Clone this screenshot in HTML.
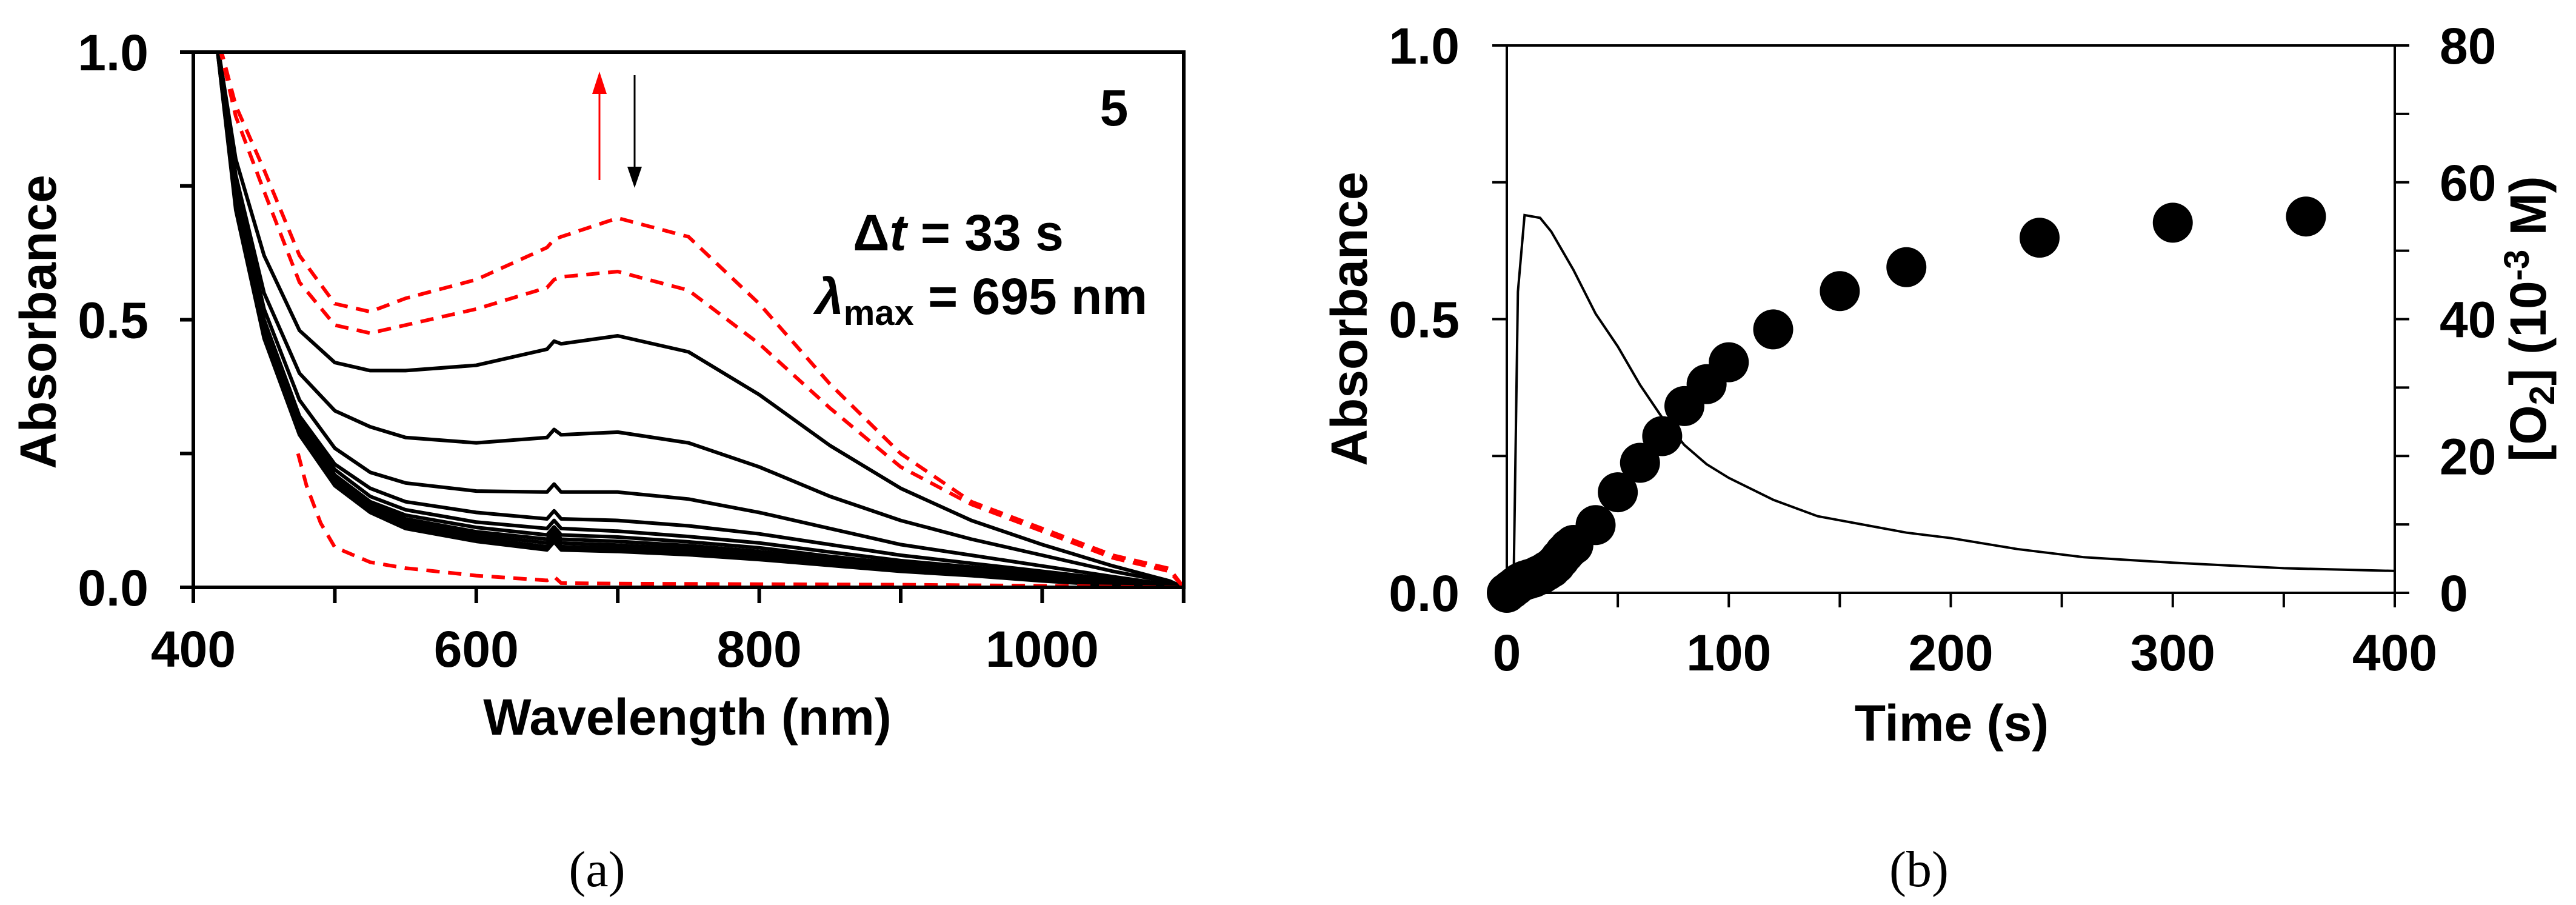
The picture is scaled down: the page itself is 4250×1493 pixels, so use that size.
<!DOCTYPE html>
<html><head><meta charset="utf-8"><style>
html,body{margin:0;padding:0;background:#fff}
svg{display:block}
text{font-family:"Liberation Sans",sans-serif;font-weight:bold;fill:#000}
.cap{font-family:"Liberation Serif",serif;font-weight:normal}
</style></head><body>
<svg id="fig" width="4250" height="1493" viewBox="0 0 4250 1493">
<g id="pa"></g>
<g id="pb"></g>
<text class="cap" x="985" y="1462" font-size="84" text-anchor="middle">(a)</text>
<text class="cap" x="3166" y="1462" font-size="84" text-anchor="middle">(b)</text>
</svg>
<script>
// ---- Panel A data ----
const wl = [415,430,450,475,500,525,550,600,650,655,660,700,750,800,850,900,950,1000,1050,1090,1100];
const redTop = [1.05,0.90,0.78,0.62,0.53,0.515,0.54,0.575,0.635,0.65,0.655,0.69,0.655,0.53,0.38,0.25,0.16,0.11,0.06,0.035,0.0];
const red2   = [1.05,0.88,0.74,0.57,0.49,0.475,0.49,0.52,0.56,0.575,0.58,0.59,0.555,0.455,0.335,0.225,0.155,0.105,0.055,0.03,0.0];
const blk1 = [1.05,0.80,0.62,0.48,0.42,0.405,0.405,0.415,0.445,0.46,0.455,0.47,0.44,0.36,0.265,0.185,0.125,0.08,0.04,0.012,0.0];
const blk2 = [1.05,0.77,0.55,0.40,0.33,0.30,0.28,0.27,0.28,0.295,0.285,0.29,0.27,0.225,0.17,0.125,0.09,0.06,0.03,0.01,0.0];
const blk3 = [1.05,0.75,0.52,0.35,0.26,0.215,0.195,0.18,0.178,0.193,0.178,0.178,0.165,0.14,0.11,0.08,0.06,0.04,0.02,0.005,0.0];
const blk4 = [1.05,0.74,0.50,0.32,0.23,0.185,0.16,0.14,0.128,0.143,0.128,0.125,0.115,0.10,0.08,0.06,0.045,0.03,0.015,0.003,0.0];
const blk5 = [1.05,0.73,0.49,0.31,0.22,0.17,0.145,0.122,0.11,0.125,0.11,0.105,0.095,0.083,0.066,0.05,0.038,0.025,0.012,0.002,0.0];
const blk6 = [1.05,0.725,0.485,0.305,0.21,0.16,0.135,0.112,0.098,0.113,0.098,0.094,0.085,0.074,0.058,0.044,0.034,0.022,0.01,0.0,0.0];
const blk7 = [1.05,0.72,0.48,0.30,0.205,0.155,0.128,0.104,0.09,0.105,0.09,0.086,0.078,0.067,0.053,0.04,0.03,0.019,0.008,0.0,0.0];
const blk8 = [1.05,0.715,0.475,0.295,0.20,0.15,0.122,0.098,0.083,0.098,0.083,0.079,0.072,0.061,0.048,0.036,0.027,0.016,0.006,0.0,0.0];
const blk9 = [1.05,0.71,0.47,0.29,0.195,0.145,0.116,0.092,0.076,0.091,0.076,0.073,0.066,0.056,0.044,0.033,0.024,0.014,0.005,0.0,0.0];
const blk10= [1.05,0.705,0.465,0.285,0.19,0.14,0.11,0.086,0.07,0.085,0.07,0.067,0.061,0.052,0.041,0.03,0.022,0.012,0.004,0.0,0.0];
const wlLow = [474,480,490,500,525,550,600,650,655,660,700,800,900,1000,1100];
const redLow = [0.25,0.19,0.12,0.075,0.047,0.036,0.022,0.013,0.02,0.008,0.007,0.006,0.005,0.003,0.0];
const xTicksA = [400,600,800,1000];
const yTicksA = [0.0,0.5,1.0];
const yTickLabelsA = ["0.0","0.5","1.0"];

// ---- Panel B data ----
const tLine = [0,3,5,8,15,20,30,40,50,60,70,80,90,100,120,140,160,180,200,230,260,300,350,400];
const absLine = [0.0,0.0,0.55,0.69,0.685,0.66,0.59,0.51,0.45,0.38,0.32,0.27,0.235,0.21,0.17,0.14,0.125,0.11,0.10,0.08,0.065,0.055,0.045,0.04];
const tDots = [0,2,4,6,8,10,12,14,16,18,20,22,24,26,28,30,40,50,60,70,80,90,100,120,150,180,240,300,360];
const o2Dots = [0,0.5,1,1.5,1.8,2,2.2,2.5,2.8,3.2,3.6,4.2,5,5.8,6.5,7,9.9,14.7,19,22.9,27.3,30.5,33.7,38.5,44.1,47.6,51.9,54.1,55];
const xTicksB = [0,100,200,300,400];
const yTicksB = [0.0,0.5,1.0];
const yTickLabelsB = ["0.0","0.5","1.0"];
const y2TicksB = [0,20,40,60,80];

const NS="http://www.w3.org/2000/svg";
function mk(parent,tag,attrs){const e=document.createElementNS(NS,tag);for(const k in attrs)e.setAttribute(k,attrs[k]);parent.appendChild(e);return e;}

// ---- Panel A ----
const pa=document.getElementById('pa');
const xA=w=>319+(w-400)*2.334;
const yA=a=>969-a*883;
const defs=mk(pa,'defs',{});
const cp=mk(defs,'clipPath',{id:'clipA'});
mk(cp,'rect',{x:319,y:86,width:1634,height:886});
function pathA(xs,ys){return xs.map((w,i)=>(i?'L':'M')+xA(w).toFixed(1)+' '+yA(ys[i]).toFixed(1)).join(' ');}
const curves=mk(pa,'g',{'clip-path':'url(#clipA)'});


const blacks=[blk10,blk9,blk8,blk7,blk6,blk5,blk4,blk3,blk2,blk1];
blacks.forEach((s,i)=>{const p=mk(curves,'path',{d:pathA(wl,s),fill:'none',stroke:'#000','stroke-width':6,'stroke-linejoin':'round'});

});
[[redTop,'spectrum-red-final'],[red2,'spectrum-red-2']].forEach(([s,n])=>{const p=mk(curves,'path',{d:pathA(wl,s),fill:'none',stroke:'#f00','stroke-width':6,'stroke-dasharray':'22 14'});

});
const pl=mk(curves,'path',{d:pathA(wlLow,redLow),fill:'none',stroke:'#f00','stroke-width':6,'stroke-dasharray':'22 14'});


const fa=mk(pa,'rect',{x:319,y:86,width:1634,height:883,fill:'none',stroke:'#000','stroke-width':6});


for(let w=400;w<=1100;w+=100){const t=mk(pa,'line',{x1:xA(w),x2:xA(w),y1:969,y2:995,stroke:'#000','stroke-width':6});

}
for(let a=0;a<=1.001;a+=0.25){const t=mk(pa,'line',{x1:297,x2:319,y1:yA(a),y2:yA(a),stroke:'#000','stroke-width':6});

}
xTicksA.forEach(w=>{const t=mk(pa,'text',{x:xA(w),y:1100,'font-size':84,'text-anchor':'middle'});t.textContent=w;

});
yTicksA.forEach((a,i)=>{const t=mk(pa,'text',{x:245,y:yA(a)+30,'font-size':84,'text-anchor':'end'});t.textContent=yTickLabelsA[i];

});

// ---- Panel B ----
const pb=document.getElementById('pb');
const xB=t=>2486+t*3.6625;
const yB=a=>978-a*903;
const yB2=v=>978-v*903/80;
const fb=mk(pb,'rect',{x:2486,y:75,width:1465,height:903,fill:'none',stroke:'#000','stroke-width':4});


for(let t=0;t<=400;t+=50){const l=mk(pb,'line',{x1:xB(t),x2:xB(t),y1:978,y2:1002,stroke:'#000','stroke-width':4});

}
for(let a=0;a<=1.001;a+=0.25){const l=mk(pb,'line',{x1:2462,x2:2486,y1:yB(a),y2:yB(a),stroke:'#000','stroke-width':4});

}
for(let v=0;v<=80;v+=10){const l=mk(pb,'line',{x1:3951,x2:3975,y1:yB2(v),y2:yB2(v),stroke:'#000','stroke-width':4});

}
xTicksB.forEach(t=>{const e=mk(pb,'text',{x:xB(t),y:1106,'font-size':84,'text-anchor':'middle'});e.textContent=t;

});
yTicksB.forEach((a,i)=>{const e=mk(pb,'text',{x:2408,y:yB(a)+30,'font-size':84,'text-anchor':'end'});e.textContent=yTickLabelsB[i];

});
y2TicksB.forEach(v=>{const e=mk(pb,'text',{x:4025,y:yB2(v)+30,'font-size':84,'text-anchor':'start'});e.textContent=v;

});
const ln=mk(pb,'path',{d:tLine.map((t,i)=>(i?'L':'M')+xB(t).toFixed(1)+' '+yB(absLine[i]).toFixed(1)).join(' '),fill:'none',stroke:'#000','stroke-width':4});


tDots.forEach((t,i)=>{const c=mk(pb,'circle',{cx:xB(t),cy:yB2(o2Dots[i]),r:33,fill:'#000'});

});
</script>
<div style="position:absolute;left:0;top:0;width:4250px;height:1493px;pointer-events:none">
<svg width="4250" height="1493" style="position:absolute;left:0;top:0">
<text x="1134" y="1212" font-size="84" text-anchor="middle">Wavelength (nm)</text>
<text transform="translate(92,531) rotate(-90)" font-size="84" text-anchor="middle">Absorbance</text>
<text x="1838" y="207" font-size="84" text-anchor="middle">5</text>
<text x="1581" y="413" font-size="84" text-anchor="middle">Δ<tspan font-style="italic">t</tspan> = 33 s</text>
<text x="1345" y="518" font-size="84"><tspan font-style="italic">λ</tspan><tspan font-size="58" dy="18">max</tspan><tspan dy="-18"> = 695 nm</tspan></text>
<g>
<line x1="989" y1="297" x2="989" y2="150" stroke="#f00" stroke-width="3"/>
<polygon points="977,155 1001,155 989,118" fill="#f00"/>
</g>
<g>
<line x1="1047" y1="124" x2="1047" y2="280" stroke="#000" stroke-width="3"/>
<polygon points="1035,275 1059,275 1047,310" fill="#000"/>
</g>
<text x="3220" y="1222" font-size="84" text-anchor="middle">Time (s)</text>
<text transform="translate(2255,526) rotate(-90)" font-size="84" text-anchor="middle">Absorbance</text>
<text transform="translate(4200,526) rotate(-90)" font-size="84" text-anchor="middle">[O<tspan font-size="58" dy="14">2</tspan><tspan dy="-14">] (10</tspan><tspan font-size="58" dy="-28">-3</tspan><tspan dy="28"> M)</tspan></text>
</svg></div>
</body></html>
